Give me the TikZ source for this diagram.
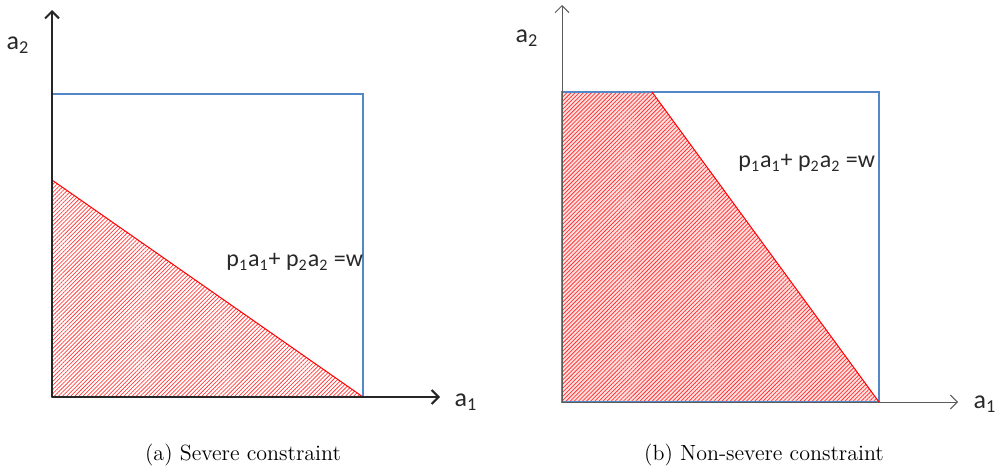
\documentclass[tikz,border=0pt]{standalone}
\usepackage{fontspec}
\newfontfamily\calib{Carlito}
\usetikzlibrary{arrows.meta,patterns.meta}
\definecolor{boxblue}{RGB}{84,135,200}
\definecolor{axgray}{RGB}{90,90,90}
\definecolor{txtgray}{RGB}{40,40,40}
\tikzset{
  boxline/.style={draw=boxblue,line width=0.6pt},
  hatchA/.style={pattern={Lines[angle=45,distance=1.45pt,line width=0.38pt]},pattern color=red!75},
  hatchB/.style={pattern={Lines[angle=45,distance=1.45pt,line width=0.38pt]},pattern color=red!80},
  redline/.style={draw=red,line width=0.5pt},
  axisA/.style={draw=black!85,line width=1pt,-{Straight Barb[length=3.5pt,width=7pt,line width=1pt]}},
  axisB/.style={draw=axgray,line width=0.5pt,-{Straight Barb[length=3.5pt,width=7pt,line width=0.5pt]}},
  lab/.style={font=\calib\fontsize{13}{15}\selectfont,inner sep=0pt,text=txtgray},
  eq/.style={font=\calib\fontsize{12}{14}\selectfont,inner sep=0pt,text=txtgray},
  captext/.style={font=\fontsize{11}{13}\selectfont,inner sep=0pt}
}
\begin{document}
\begin{tikzpicture}[x=0.5pt,y=-0.5pt]
\useasboundingbox (0,0) rectangle (997,471);
% ---- panel (a)
\fill[hatchA] (52,180) -- (363,397) -- (52,397) -- cycle;
\draw[boxline] (52,94) rectangle (363,397);
\draw[redline] (52,180) -- (363,397);
\coordinate (oA) at (52,397);
\coordinate (yA) at (52,10);
\coordinate (xA) at (440,397);
\draw[axisA] (oA) -- (yA);
\draw[axisA] (oA) -- (xA);
\node[lab] (a2A) at (18,45) {a\textsubscript{2}};
\node[lab] (a1A) at (466,402) {a\textsubscript{1}};
\node[eq,anchor=west] (eqA) at (226,262) {p\textsubscript{1}a\textsubscript{1}+ p\textsubscript{2}a\textsubscript{2} =w};
\node[captext] (capA) at (243,455) {(a) Severe constraint};
% ---- panel (b)
\fill[red!12] (562,92) -- (652,92) -- (879,402) -- (562,402) -- cycle;
\fill[hatchB] (562,92) -- (652,92) -- (879,402) -- (562,402) -- cycle;
\draw[boxline] (562,92) rectangle (879,402);
\draw[redline] (652,92) -- (879,402);
\coordinate (oB) at (562,402);
\coordinate (yB) at (562,5);
\coordinate (xB) at (958,402);
\draw[axisB] (oB) -- (yB);
\draw[axisB] (oB) -- (xB);
\node[lab] (a2B) at (527,38) {a\textsubscript{2}};
\node[lab] (a1B) at (985,404) {a\textsubscript{1}};
\node[eq,anchor=west] (eqB) at (738,163) {p\textsubscript{1}a\textsubscript{1}+ p\textsubscript{2}a\textsubscript{2} =w};
\node[captext] (capB) at (764,455) {(b) Non-severe constraint};
\end{tikzpicture}
\end{document}
